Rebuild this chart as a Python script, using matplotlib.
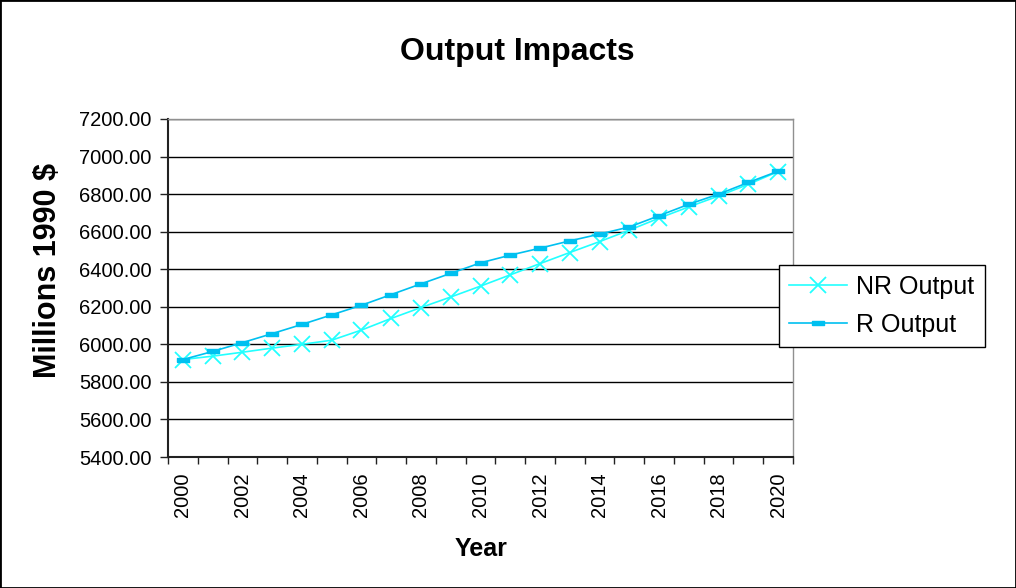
import matplotlib
matplotlib.use("Agg")
import matplotlib.pyplot as plt
from matplotlib.patches import Rectangle
from matplotlib.ticker import MultipleLocator, FormatStrFormatter

plt.rcParams['font.family'] = ['Liberation Sans', 'DejaVu Sans']

# data
years = list(range(2000, 2021))
nr_output = [5919, 5937, 5958, 5980, 6000, 6022, 6076, 6138, 6196, 6252, 6310,
             6370, 6430, 6489, 6547, 6608, 6672, 6732, 6790, 6852, 6920]
r_output = [5919, 5962, 6009, 6057, 6106, 6157, 6208, 6265, 6322, 6378, 6434,
            6475, 6512, 6551, 6587, 6625, 6685, 6746, 6800, 6862, 6922]

W, H = 1016, 588
fig = plt.figure(figsize=(W/100, H/100), dpi=100)
ax = fig.add_axes([168/W, 1-457/H, (793-168)/W, (457-119)/H])

# rectangular marker for R Output
bar = [(-1, -0.4), (1, -0.4), (1, 0.4), (-1, 0.4), (-1, -0.4)]

ax.plot(years, nr_output, color='#22FFFF', lw=1.2, marker='x', ms=11, mew=1.3,
        label='NR Output', zorder=3)
ax.plot(years, r_output, color='#00C0F0', lw=1.2, marker=bar, ms=8,
        label='R Output', zorder=3)

ax.set_xlim(1999.5, 2020.5)
ax.set_ylim(5400, 7200)
ax.yaxis.set_major_locator(MultipleLocator(200))
ax.yaxis.set_major_formatter(FormatStrFormatter('%.2f'))
ax.set_xticks(years[::2])
ax.set_xticklabels([str(y) for y in years[::2]], rotation=90)
ax.set_xticks([y - 0.5 for y in years] + [2020.5], minor=True)
ax.tick_params(axis='x', which='major', length=0, pad=11, labelsize=14.5)
ax.tick_params(axis='x', which='minor', length=5, width=1, color='#222222')
ax.tick_params(axis='y', length=6, width=1, color='#222222', labelsize=14.5, pad=6)

ax.grid(True, axis='y', color='black', lw=1)
ax.set_axisbelow(True)
for s in ['top', 'right']:
    ax.spines[s].set_color('#909090')
    ax.spines[s].set_linewidth(1)
for s in ['left', 'bottom']:
    ax.spines[s].set_color('#222222')
    ax.spines[s].set_linewidth(1.5)

leg = ax.legend(loc='upper left', bbox_to_anchor=(779/W, 1-265/H),
                bbox_transform=fig.transFigure, fontsize=18, frameon=True,
                fancybox=False, edgecolor='black', framealpha=1,
                handlelength=2.3, borderpad=0.4, labelspacing=0.55,
                handletextpad=0.4, borderaxespad=0)
leg.get_frame().set_linewidth(1)

fig.text(517/W, 1-52/H, 'Output Impacts', fontsize=23, fontweight='bold',
         ha='center', va='center')
fig.text(481/W, 1-549/H, 'Year', fontsize=18, fontweight='bold',
         ha='center', va='center')
fig.text(48/W, 1-271/H, 'Millions 1990 $', fontsize=22, fontweight='bold',
         ha='center', va='center', rotation=90)

fig.add_artist(Rectangle((0, 0), 1, 1, transform=fig.transFigure,
                         fill=False, edgecolor='black', lw=2))

fig.savefig('out.png', dpi=100)
